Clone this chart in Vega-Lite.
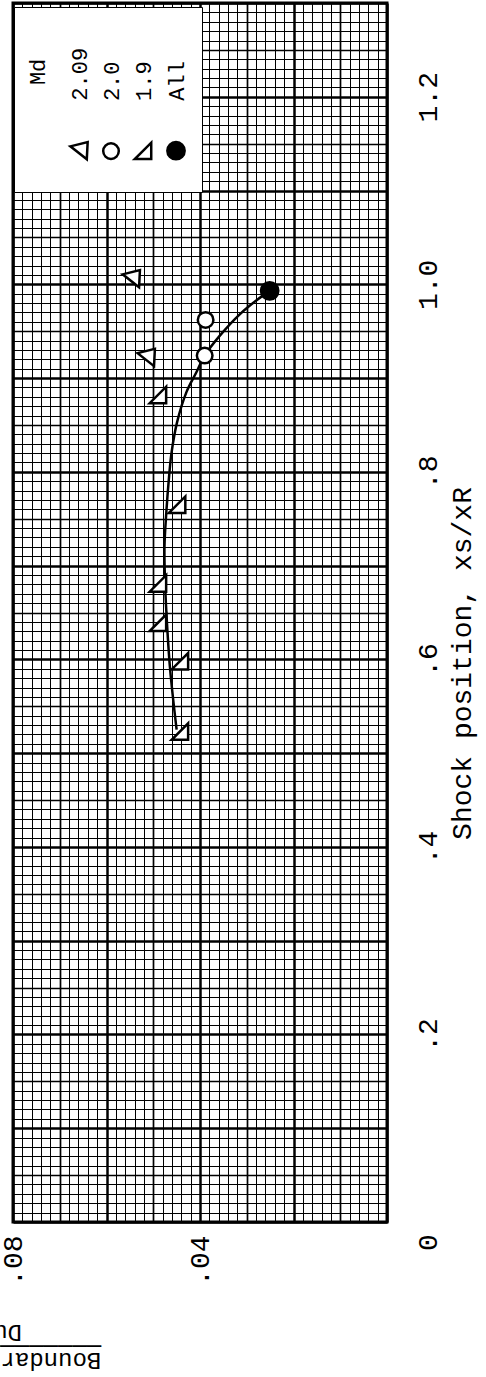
{
  "$schema": "https://vega.github.io/schema/vega-lite/v6.json",
  "width": 374,
  "height": 1219,
  "autosize": {"type": "none"},
  "padding": {"left": 13, "top": 3, "right": 99, "bottom": 155},
  "background": "white",
  "config": {
    "view": {"stroke": "black", "strokeWidth": 3},
    "font": "Liberation Mono",
    "style": {
      "guide-label": {"angle": -90, "dx": 50}
    },
    "axis": {
      "domain": false, "ticks": false, "grid": true,
      "labelFont": "Liberation Mono", "titleFont": "Liberation Mono",
      "labelColor": "black", "titleColor": "black", "titleFontWeight": "normal",
      "gridColor": "black", "gridOpacity": 1,
      "labelOverlap": false, "labelBound": false, "labelFlush": false
    }
  },
  "datasets": {
    "points": [
      {"Md": "2.09", "s": 1.006, "t": 0.0547},
      {"Md": "2.09", "s": 0.922, "t": 0.0515},
      {"Md": "2.0", "s": 0.962, "t": 0.0388},
      {"Md": "2.0", "s": 0.924, "t": 0.0390},
      {"Md": "1.9", "s": 0.882, "t": 0.0490},
      {"Md": "1.9", "s": 0.765, "t": 0.0449},
      {"Md": "1.9", "s": 0.681, "t": 0.0490},
      {"Md": "1.9", "s": 0.639, "t": 0.0490},
      {"Md": "1.9", "s": 0.598, "t": 0.0443},
      {"Md": "1.9", "s": 0.523, "t": 0.0443},
      {"Md": "All", "s": 0.993, "t": 0.0251}
    ],
    "curve": [
      {"s": 0.525, "t": 0.0450},
      {"s": 0.590, "t": 0.0464},
      {"s": 0.651, "t": 0.0472},
      {"s": 0.686, "t": 0.0475},
      {"s": 0.720, "t": 0.0476},
      {"s": 0.757, "t": 0.0472},
      {"s": 0.790, "t": 0.0467},
      {"s": 0.820, "t": 0.0461},
      {"s": 0.853, "t": 0.0449},
      {"s": 0.885, "t": 0.0429},
      {"s": 0.906, "t": 0.0408},
      {"s": 0.924, "t": 0.0390},
      {"s": 0.945, "t": 0.0358},
      {"s": 0.968, "t": 0.0315},
      {"s": 0.983, "t": 0.0279},
      {"s": 0.993, "t": 0.0251}
    ]
  },
  "encoding": {
    "x": {
      "field": "t", "type": "quantitative",
      "scale": {"domain": [0, 0.08], "reverse": true, "nice": false, "zero": false},
      "axis": {
        "orient": "bottom",
        "values": [0,0.002,0.004,0.006,0.008,0.01,0.012,0.014,0.016,0.018,0.02,0.022,0.024,0.026,0.028,0.03,0.032,0.034,0.036,0.038,0.04,0.042,0.044,0.046,0.048,0.05,0.052,0.054,0.056,0.058,0.06,0.062,0.064,0.066,0.068,0.07,0.072,0.074,0.076,0.078,0.08],
        "labelExpr": "abs(datum.value - 0.04) < 0.0001 ? '.04' : abs(datum.value - 0.08) < 0.0001 ? '.08' : ''",
        "labelAngle": -90, "labelAlign": "right", "labelBaseline": "middle",
        "labelPadding": 63, "labelFontSize": 28,
        "gridWidth": {"condition": [{"test": "abs(datum.value*50 - round(datum.value*50)) < 0.001", "value": 2.5}, {"test": "abs(datum.value*100 - round(datum.value*100)) < 0.001", "value": 1.7}], "value": 1},
        "title": ["Boundary-layer thickness", "────────────────────────", "Duct diameter"],
        "titleAngle": 180, "titleAlign": "center", "titleBaseline": "alphabetic",
        "titleLineHeight": 14, "titleFontSize": 24, "titleX": -85, "titleY": 130
      }
    },
    "y": {
      "field": "s", "type": "quantitative",
      "scale": {"domain": [0, 1.3], "nice": false, "zero": false},
      "axis": {
        "orient": "right",
        "values": [0,0.01,0.02,0.03,0.04,0.05,0.06,0.07,0.08,0.09,0.1,0.11,0.12,0.13,0.14,0.15,0.16,0.17,0.18,0.19,0.2,0.21,0.22,0.23,0.24,0.25,0.26,0.27,0.28,0.29,0.3,0.31,0.32,0.33,0.34,0.35,0.36,0.37,0.38,0.39,0.4,0.41,0.42,0.43,0.44,0.45,0.46,0.47,0.48,0.49,0.5,0.51,0.52,0.53,0.54,0.55,0.56,0.57,0.58,0.59,0.6,0.61,0.62,0.63,0.64,0.65,0.66,0.67,0.68,0.69,0.7,0.71,0.72,0.73,0.74,0.75,0.76,0.77,0.78,0.79,0.8,0.81,0.82,0.83,0.84,0.85,0.86,0.87,0.88,0.89,0.9,0.91,0.92,0.93,0.94,0.95,0.96,0.97,0.98,0.99,1,1.01,1.02,1.03,1.04,1.05,1.06,1.07,1.08,1.09,1.1,1.11,1.12,1.13,1.14,1.15,1.16,1.17,1.18,1.19,1.2,1.21,1.22,1.23,1.24,1.25,1.26,1.27,1.28,1.29,1.3],
        "labelExpr": "abs(datum.value*5 - round(datum.value*5)) < 0.001 ? (datum.value < 0.001 ? '0' : datum.value < 0.999 ? substring(format(datum.value, '.1f'), 1) : format(datum.value, '.1f')) : ''",
        "labelAngle": -90, "labelAlign": "center", "labelBaseline": "top",
        "labelPadding": 27, "labelFontSize": 28,
        "labelOffset": {"condition": {"test": "datum.value < 0.001", "value": 70}, "value": 50},
        "gridWidth": {"condition": [{"test": "abs(datum.value*10 - round(datum.value*10)) < 0.001", "value": 2.5}, {"test": "abs(datum.value*20 - round(datum.value*20)) < 0.001", "value": 1.7}], "value": 1},
        "title": "Shock position, xs/xR",
        "titleAngle": -90, "titleAlign": "center", "titleBaseline": "middle",
        "titleFontSize": 28, "titleX": 75, "titleY": 660
      }
    }
  },
  "layer": [
    {
      "data": {"name": "curve"},
      "mark": {"type": "line", "color": "black", "strokeWidth": 2.5, "interpolate": "catmull-rom"},
      "encoding": {
        "order": {"field": "s", "type": "quantitative"}
      }
    },
    {
      "data": {"name": "points"},
      "mark": {"type": "point", "strokeWidth": 2.5, "stroke": "black", "opacity": 1},
      "encoding": {
        "shape": {
          "field": "Md", "type": "nominal",
          "scale": {"domain": ["Md", "2.09", "2.0", "1.9", "All"], "range": ["M 0 0 M 2 4.6", "M -1 -0.5 L 1 -1 L 0.9 1 Z", "M -0.9 0 A 0.9 0.9 0 1 0 0.9 0 A 0.9 0.9 0 1 0 -0.9 0 Z", "M -0.95 0.95 L 0.95 0.95 L 0.95 -0.95 Z", "circle"]},
          "legend": {
            "title": " ",
            "orient": "none", "legendX": 1, "legendY": 4,
            "direction": "horizontal", "columns": 5,
            "titleOrient": "top", "titleFontSize": 100, "titlePadding": 5,
            "fillColor": "white", "strokeColor": "black", "padding": 12,
            "columnPadding": 5,
            "labelAlign": "left", "labelBaseline": "middle", "labelOffset": -10,
            "labelFont": "Liberation Mono", "labelFontSize": 22, "labelColor": "black", "labelLimit": 0,
            "titleFont": "Liberation Mono", "titleFontWeight": "normal", "titleColor": "black",
            "symbolStrokeColor": "black", "symbolStrokeWidth": 2.5, "symbolOpacity": 1
          }
        },
        "fill": {
          "field": "Md", "type": "nominal",
          "scale": {"domain": ["Md", "2.09", "2.0", "1.9", "All"], "range": ["white", "white", "white", "white", "black"]}
        },
        "size": {
          "field": "Md", "type": "nominal",
          "scale": {"domain": ["Md", "2.09", "2.0", "1.9", "All"], "range": [300, 300]}
        }
      }
    }
  ]
}
